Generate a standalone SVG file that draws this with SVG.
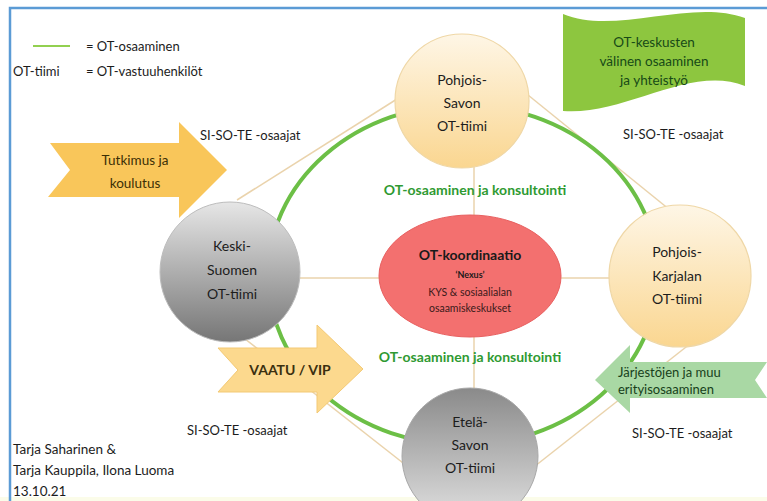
<svg xmlns="http://www.w3.org/2000/svg" width="767" height="501" viewBox="0 0 767 501">
<defs>
<linearGradient id="gOrange" x1="0" y1="0" x2="0" y2="1">
<stop offset="0" stop-color="#fef6e6"/><stop offset="1" stop-color="#fad690"/>
</linearGradient>
<linearGradient id="gGrayA" x1="0" y1="0" x2="0" y2="1">
<stop offset="0" stop-color="#e6e6e6"/><stop offset="1" stop-color="#767676"/>
</linearGradient>
<linearGradient id="gGrayB" x1="0" y1="0" x2="0" y2="1">
<stop offset="0" stop-color="#8a8a8a"/><stop offset="1" stop-color="#e2e2e2"/>
</linearGradient>
<style>
text{font-family:Lato,"Liberation Sans",sans-serif;fill:#1c1c1c;}
.c{text-anchor:middle;font-size:14px;}
.t{font-size:13px;}
.gb{font-weight:bold;fill:#2f9a32;font-size:14px;text-anchor:middle;}
.tan{stroke:#ead3ac;stroke-width:1.5;fill:none;}
.ring{stroke:#6cbf46;stroke-width:4;fill:none;}
.circO{fill:url(#gOrange);stroke:#efd7a6;stroke-width:1.2;}
</style>
</defs>
<rect width="767" height="501" fill="#ffffff"/>
<rect x="0" y="497" width="767" height="4" fill="#fbfce9"/>
<path d="M10,501 V8 H767" fill="none" stroke="#5b9bd5" stroke-width="2.5"/>

<g id="connectors">
<line class="tan" x1="237" y1="200" x2="397" y2="99"/>
<line class="tan" x1="528" y1="95" x2="670" y2="210"/>
<line class="tan" x1="240" y1="335" x2="412" y2="470"/>
<line class="tan" x1="700" y1="336" x2="530" y2="470"/>
<line class="tan" x1="290" y1="278" x2="640" y2="278"/>
<line class="tan" x1="474" y1="160" x2="474" y2="395"/>
<ellipse class="ring" cx="463" cy="275" rx="195" ry="170"/>
</g>

<g id="legend">
<line x1="33" y1="46" x2="70" y2="46" stroke="#92d050" stroke-width="2"/>
<text class="t" x="86" y="51">= OT-osaaminen</text>
<text class="t" x="13" y="76">OT-tiimi</text>
<text class="t" x="86" y="76">= OT-vastuuhenkilöt</text>
</g>

<g id="flag">
<path d="M563,14 C615,36 690,-2 745,18 L745,86 C690,64 625,116 563,111 Z" fill="#8dc63f"/>
<text x="654" y="47" text-anchor="middle" font-size="13.5" style="fill:#174a17">OT-keskusten</text>
<text x="654" y="66" text-anchor="middle" font-size="13.5" style="fill:#174a17">välinen osaaminen</text>
<text x="654" y="85" text-anchor="middle" font-size="13.5" style="fill:#174a17">ja yhteistyö</text>
</g>

<g id="pohjois-savon">
<circle class="circO" cx="462" cy="101" r="67"/>
<text class="c" x="462" y="85">Pohjois-</text>
<text class="c" x="462" y="108">Savon</text>
<text class="c" x="462" y="131">OT-tiimi</text>
</g>

<g id="keski-suomen">
<circle cx="230" cy="272" r="70" fill="url(#gGrayA)" stroke="#bdbdbd" stroke-width="1"/>
<text class="c" x="232" y="251">Keski-</text>
<text class="c" x="232" y="275">Suomen</text>
<text class="c" x="232" y="299">OT-tiimi</text>
</g>

<g id="pohjois-karjalan">
<circle class="circO" cx="680" cy="276" r="71"/>
<text class="c" x="677" y="257">Pohjois-</text>
<text class="c" x="677" y="281">Karjalan</text>
<text class="c" x="677" y="304">OT-tiimi</text>
</g>

<g id="etela-savon">
<circle cx="470" cy="456" r="68" fill="url(#gGrayB)" stroke="#a8a8a8" stroke-width="1"/>
<text class="c" x="470" y="427">Etelä-</text>
<text class="c" x="470" y="450">Savon</text>
<text class="c" x="470" y="473">OT-tiimi</text>
</g>

<g id="ot-koordinaatio">
<ellipse cx="470" cy="276" rx="91" ry="61" fill="#f3706f" stroke="#e86060" stroke-width="1"/>
<text x="470" y="260" text-anchor="middle" font-size="14" font-weight="bold" style="fill:#1a1a1a">OT-koordinaatio</text>
<text x="470" y="278" text-anchor="middle" font-size="9" font-weight="bold" style="fill:#1a1a1a">‘Nexus’</text>
<text x="470" y="296" text-anchor="middle" font-size="10.5" style="fill:#3a1a1a">KYS &amp; sosiaalialan</text>
<text x="470" y="312" text-anchor="middle" font-size="10.5" style="fill:#3a1a1a">osaamiskeskukset</text>
</g>

<g id="labels">
<text class="gb" x="475" y="195">OT-osaaminen ja konsultointi</text>
<text class="gb" x="470" y="362">OT-osaaminen ja konsultointi</text>
<text class="t" x="200" y="140">SI-SO-TE -osaajat</text>
<text class="t" x="623" y="139">SI-SO-TE -osaajat</text>
<text class="t" x="187" y="435">SI-SO-TE -osaajat</text>
<text class="t" x="632" y="438">SI-SO-TE -osaajat</text>
</g>

<g id="tutkimus">
<polygon points="50,143 179,143 179,122 227,170 179,218 179,197 48,197 70,170" fill="#f9c65a"/>
<text x="135" y="165" text-anchor="middle" font-size="13.5" style="fill:#3b2f05">Tutkimus ja</text>
<text x="135" y="188" text-anchor="middle" font-size="13.5" style="fill:#3b2f05">koulutus</text>
</g>

<g id="vaatu">
<polygon points="218,348 317,348 317,325 363,369 317,413 317,392 218,392 238,370" fill="#fcd98e" stroke="#f3c974" stroke-width="1"/>
<text x="290" y="375" text-anchor="middle" font-size="14" font-weight="bold" style="fill:#3b3010">VAATU / VIP</text>
</g>

<g id="jarjestot">
<polygon points="595,380 630,345 630,362 767,362 755,380 767,398 630,398 630,413" fill="#a9d8a4"/>
<text x="618" y="377" font-size="13" style="fill:#17401a">Järjestöjen ja muu</text>
<text x="618" y="394" font-size="13" style="fill:#17401a">erityisosaaminen</text>
</g>

<g id="credits">
<text x="13" y="454" font-size="13.5">Tarja Saharinen &amp;</text>
<text x="13" y="475" font-size="13.5">Tarja Kauppila, Ilona Luoma</text>
<text x="13" y="496" font-size="13.5">13.10.21</text>
</g>
</svg>
